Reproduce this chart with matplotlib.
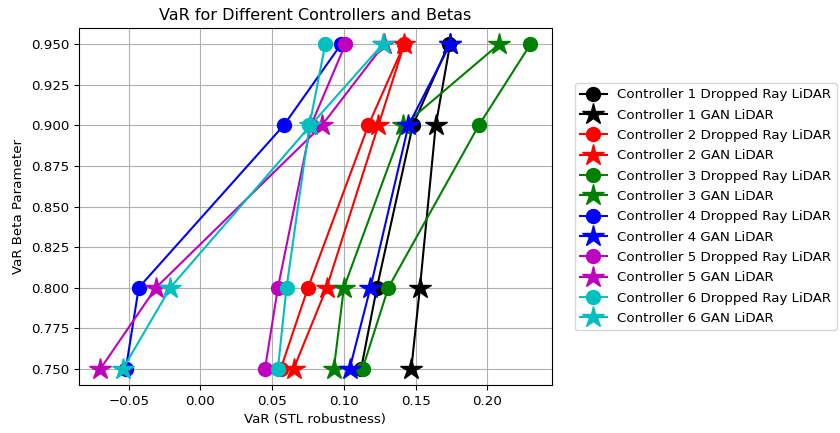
import matplotlib
matplotlib.use("Agg")
import matplotlib.pyplot as plt

plt.rcParams["font.size"] = 9.6

betas = [0.75, 0.80, 0.90, 0.95]

controllers = ["Controller 1", "Controller 2", "Controller 3",
               "Controller 4", "Controller 5", "Controller 6"]
colors = ["k", "r", "g", "b", "m", "c"]

# VaR values per controller, ordered by beta
dropped_ray = [
    [0.112, 0.123, 0.148, 0.173],    # Controller 1
    [0.056, 0.075, 0.117, 0.142],    # Controller 2
    [0.113, 0.131, 0.194, 0.230],    # Controller 3
    [-0.052, -0.043, 0.058, 0.098],  # Controller 4
    [0.045, 0.054, 0.077, 0.101],    # Controller 5
    [0.054, 0.060, 0.076, 0.087],    # Controller 6
]
gan = [
    [0.147, 0.153, 0.164, 0.174],    # Controller 1
    [0.065, 0.088, 0.124, 0.142],    # Controller 2
    [0.093, 0.100, 0.1415, 0.208],   # Controller 3
    [0.104, 0.1185, 0.145, 0.174],   # Controller 4
    [-0.0697, -0.031, 0.0846, 0.128],  # Controller 5
    [-0.054, -0.021, 0.0767, 0.127],   # Controller 6
]

fig = plt.figure(figsize=(8.4, 4.33), dpi=100)
ax = fig.add_axes([0.094, 0.111, 0.563, 0.824])

for name, c, d, g in zip(controllers, colors, dropped_ray, gan):
    ax.plot(d, betas, "-o", color=c, markersize=10, label=f"{name} Dropped Ray LiDAR")
    ax.plot(g, betas, "-*", color=c, markersize=16, label=f"{name} GAN LiDAR")

ax.set_title("VaR for Different Controllers and Betas")
ax.set_xlabel("VaR (STL robustness)")
ax.set_ylabel("VaR Beta Parameter")
ax.grid(True)
ax.legend(loc="center left", bbox_to_anchor=(1.04, 0.5), borderaxespad=0.3,
          labelspacing=0.55)

fig.savefig("out.png", dpi=100)
